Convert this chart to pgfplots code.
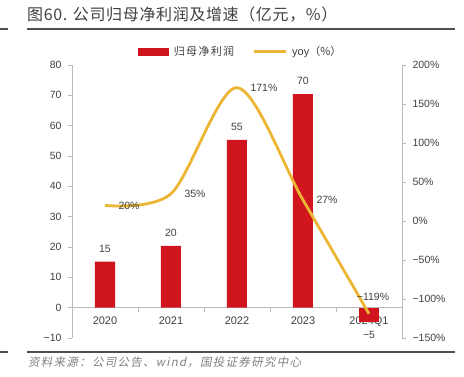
\documentclass[border=0pt]{standalone}
\usepackage{fontspec}
\setmainfont{Liberation Sans}
\newfontfamily\cjk{Noto Sans CJK SC}
\newfontfamily\cjkt[LetterSpace=4]{Noto Sans CJK SC}
\newfontfamily\cjkw[LetterSpace=12]{Noto Sans CJK SC}
\newfontfamily\cjkit[FakeSlant=0.2,LetterSpace=11]{Noto Sans CJK SC}
\usepackage{pgfplots}
\pgfplotsset{compat=1.18}
\definecolor{barred}{RGB}{208,21,30}
\definecolor{lineyel}{RGB}{236,182,52}
\definecolor{axgray}{RGB}{185,185,185}
\definecolor{txt}{RGB}{64,64,64}
\definecolor{rulec}{RGB}{80,80,80}
\pgfplotstableread{
x val lab
0 15.2 15
1 20.4 20
2 55.3 55
3 70.4 70
}\bars
\pgfplotstableread{
x val lab
4 -4.8 −5
}\negbars
\pgfplotstableread{
x val
0 20
1 35
2 171
3 27
4 -119
}\yoy
\begin{document}
\begin{tikzpicture}[x=1pt,y=1pt]
\useasboundingbox (0,0) rectangle (464,377);
\node[anchor=west, text=txt, inner sep=0pt] at (27,362) {\fontsize{16}{18}\cjkt 图60. 公司归母净利润及增速（亿元，\%）};
\draw[line width=1.2pt, rulec] (0,348) -- (8,348);
\draw[line width=1.2pt, rulec] (27,348) -- (455,348);
\draw[line width=1.2pt, rulec] (0,25) -- (8,25);
\draw[line width=1.2pt, rulec] (27,25) -- (455,25);
\node[anchor=west, text=gray, inner sep=0pt] at (28,15) {\fontsize{11.5}{13}\cjkit 资料来源：公司公告、wind，国投证券研究中心};
\begin{axis}[
  at={(72pt,39pt)}, anchor=south west,
  width=330pt, height=273pt, scale only axis,
  xmin=-0.5, xmax=4.5, ymin=-10, ymax=80,
  axis y line*=left, axis x line*=middle,
  hide obscured x ticks=false,
  axis line style={axgray, line width=0.8pt},
  ytick={-10,0,...,80},
  yticklabels={−10,0,10,20,30,40,50,60,70,80},
  xtick={-0.5,0.5,...,4.5},
  x tick label as interval,
  xticklabels={2020,2021,2022,2023,2024Q1},
  tick align=outside,
  major tick length=4pt,
  tick style={axgray, line width=0.8pt},
  yticklabel style={font=\fontsize{10.5}{12}\selectfont, text=txt, xshift=-3pt},
  xticklabel style={font=\fontsize{11}{13}\selectfont, text=txt, yshift=-2pt},
  clip=false,
]
\addplot[ybar, bar width=20pt, bar shift=0pt, fill=barred, draw=none,
  nodes near coords, point meta=explicit symbolic,
  every node near coord/.append style={anchor=south, font=\fontsize{10.5}{12}\selectfont, text=txt, inner ysep=9pt}]
  table[x=x, y=val, meta=lab] {\bars};
\addplot[ybar, bar width=20pt, bar shift=0pt, fill=barred, draw=none,
  nodes near coords, point meta=explicit symbolic,
  every node near coord/.append style={anchor=north, font=\fontsize{10.5}{12}\selectfont, text=txt, inner ysep=9pt}]
  table[x=x, y=val, meta=lab] {\negbars};
\end{axis}
\begin{axis}[
  at={(72pt,39pt)}, anchor=south west,
  width=330pt, height=273pt, scale only axis,
  xmin=-0.5, xmax=4.5, ymin=-150, ymax=200,
  axis y line*=right, axis x line=none,
  axis line style={axgray, line width=0.8pt},
  ytick={-150,-100,...,200},
  yticklabels={−150\%,−100\%,−50\%,0\%,50\%,100\%,150\%,200\%},
  tick align=outside,
  major tick length=4pt,
  tick style={axgray, line width=0.8pt},
  yticklabel style={font=\fontsize{10.5}{12}\selectfont, text=txt, xshift=3pt},
  clip=false,
  legend columns=2,
  legend style={at={(0.512,1.048)}, anchor=center, draw=none, fill=none,
    font=\fontsize{11}{13}\selectfont, text=txt,
    /tikz/every even column/.append style={column sep=16pt},
    /tikz/every odd column/.append style={column sep=3pt}},
]
\addlegendimage{legend image code/.code={\fill[barred] (0pt,-3.5pt) rectangle (30pt,3.5pt);}}
\addlegendentry{\cjkw 归母净利润}
\addlegendimage{legend image code/.code={\draw[lineyel, line width=3pt] (0pt,0pt) -- (32pt,0pt);}}
\addlegendentry{yoy{\cjk（\%）}}
\addplot[smooth, lineyel, line width=2.8pt, forget plot] table[x=x, y=val] {\yoy};
\addplot[draw=none, nodes near coords, point meta=explicit symbolic,
  every node near coord/.style={anchor=west, xshift=10pt, font=\fontsize{10.5}{12}\selectfont, text=txt}, forget plot]
  table[x=x, y=val, meta=lab] {
x val lab
0 20 20\%
1 35 35\%
2 171 171\%
3 27 27\%
};
\addplot[draw=none, nodes near coords, point meta=explicit symbolic,
  every node near coord/.style={anchor=south, xshift=4pt, yshift=10pt, font=\fontsize{10.5}{12}\selectfont, text=txt}, forget plot]
  table[x=x, y=val, meta=lab] {
x val lab
4 -119 −119\%
};
\end{axis}
\end{tikzpicture}
\end{document}
